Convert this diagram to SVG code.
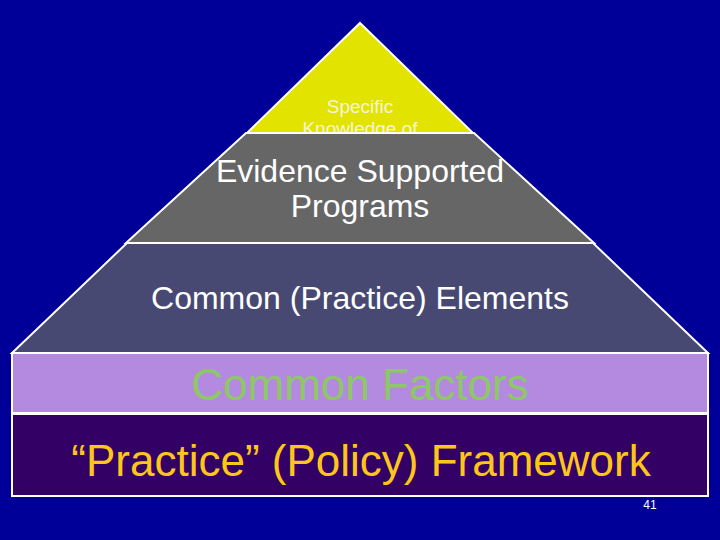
<svg xmlns="http://www.w3.org/2000/svg" width="720" height="540" viewBox="0 0 720 540">
<style>
.edge{stroke:#ffffff;stroke-width:2;stroke-linejoin:miter}
.t{font-family:"Liberation Sans",Arial,sans-serif;text-anchor:middle}
</style>
<rect x="0" y="0" width="720" height="540" fill="#000099"/>
<g id="top">
<polygon class="edge" points="360,23 473,133 247,133" fill="#e3e300"/>
<text class="t" x="360" y="113" font-size="19" fill="#f4f4dc">Specific</text>
<text class="t" x="360" y="135" font-size="19" fill="#f4f4dc">Knowledge of</text>
</g>
<g id="programs">
<polygon class="edge" points="246,133 474,133 594,243 126,243" fill="#666666"/>
<text class="t" x="360" y="182" font-size="32" fill="#ffffff">Evidence Supported</text>
<text class="t" x="360" y="217" font-size="32" fill="#ffffff">Programs</text>
</g>
<g id="elements">
<polygon class="edge" points="127,243 593,243 708,353 12,353" fill="#474972"/>
<text class="t" x="360" y="309" font-size="32" fill="#ffffff">Common (Practice) Elements</text>
</g>
<g id="factors">
<rect class="edge" x="12" y="353" width="696" height="60" fill="#b38ae0"/>
<text class="t" x="360" y="400" font-size="44" fill="#8ec866">Common Factors</text>
</g>
<g id="framework">
<rect class="edge" x="12" y="414" width="696" height="82" fill="#330066"/>
<text class="t" x="361" y="476" font-size="44" fill="#ffc61a">“Practice” (Policy) Framework</text>
</g>
<text class="t" x="650" y="509" font-size="12" fill="#ffffff">41</text>
</svg>
